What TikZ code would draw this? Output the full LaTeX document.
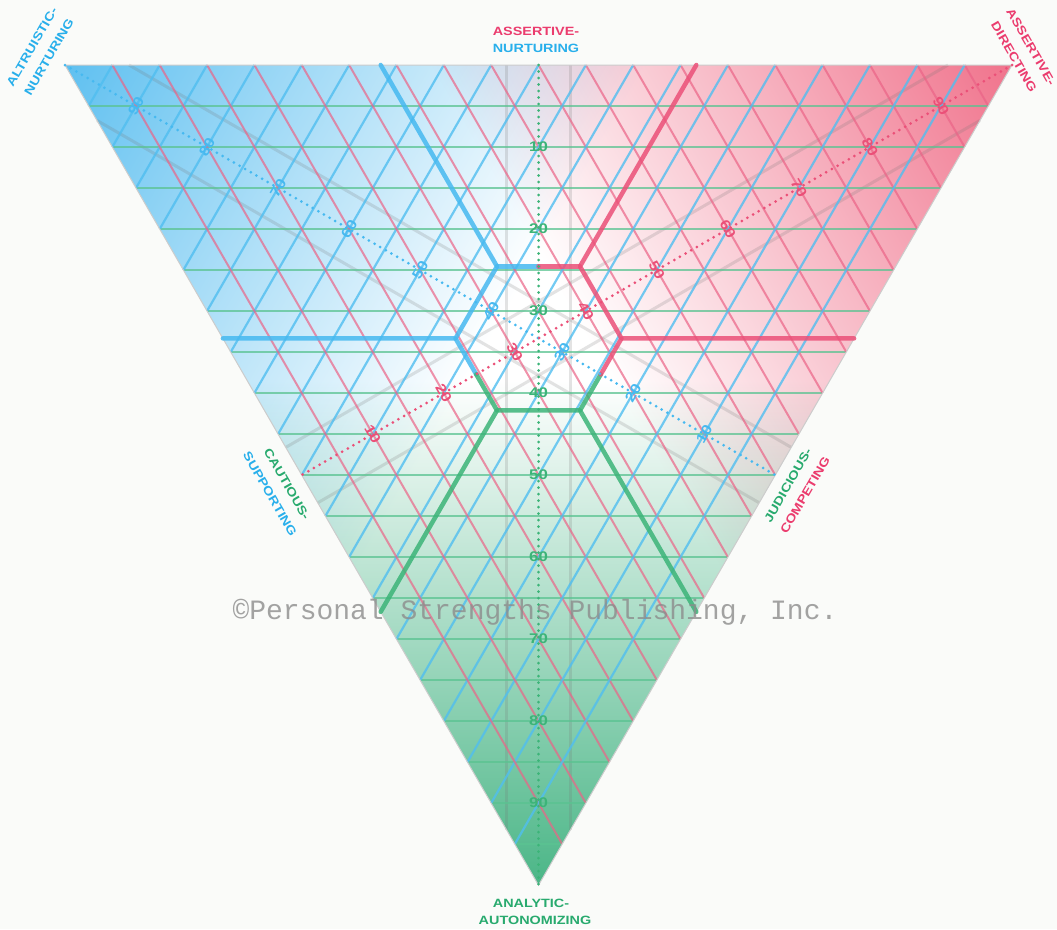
\documentclass[tikz,border=0pt]{standalone}
\usepackage{fontspec}
\usetikzlibrary{calc}
\newfontfamily\labfont[FakeStretch=1.2]{Liberation Sans}
\newfontfamily\wmfont{Liberation Mono}
\definecolor{bgc}{RGB}{250,251,249}
\definecolor{bcorner}{RGB}{95,192,240}
\definecolor{rcorner}{RGB}{240,115,140}
\definecolor{gcorner}{RGB}{75,182,135}
\definecolor{gridblue}{RGB}{80,190,240}
\definecolor{gridred}{RGB}{235,100,135}
\definecolor{gridgreen}{RGB}{90,195,145}
\definecolor{thblue}{RGB}{70,185,240}
\definecolor{thred}{RGB}{235,80,120}
\definecolor{thgreen}{RGB}{60,180,120}
\definecolor{labred}{RGB}{235,60,110}
\definecolor{labblue}{RGB}{40,175,235}
\definecolor{labgreen}{RGB}{40,170,110}
\tikzset{
  gline/.style={line width=1.8pt, draw=gridgreen, draw opacity=0.75},
  bline/.style={line width=2.2pt, draw=gridblue, draw opacity=0.8},
  rline/.style={line width=2pt, draw=gridred, draw opacity=0.7},
  grayline/.style={line width=3pt, draw=black!55, draw opacity=0.2},
  thick line/.style={line width=4.5pt, draw opacity=0.85, line cap=round, line join=round},
  median/.style={line width=3pt, line cap=round, dash pattern=on 0pt off 6.5pt},
  num/.style={font=\labfont\bfseries\fontsize{14}{14}\selectfont, inner sep=0pt},
  lab/.style={font=\labfont\bfseries\fontsize{12}{12}\selectfont, inner sep=0pt},
}
\begin{document}
\begin{tikzpicture}[x=1pt,y=-1pt]
\useasboundingbox (0,0) rectangle (1057,929);
\fill[bgc] (0,0) rectangle (1057,929);
% main vertices
\coordinate (A) at (65,65);
\coordinate (B) at (1012,65);
\coordinate (C) at (538.5,885.1);
\coordinate (O) at (538.5,338.4);
\coordinate (Mab) at ($(A)!0.5!(B)$);
\coordinate (Mbc) at ($(B)!0.5!(C)$);
\coordinate (Mac) at ($(A)!0.5!(C)$);
% hexagon
\coordinate (H0) at (621.5,338.4);
\coordinate (H1) at (580,266.4);
\coordinate (H2) at (497,266.4);
\coordinate (H3) at (455.5,338.4);
\coordinate (H4) at (497,410.4);
\coordinate (H5) at (580,410.4);
\coordinate (H12) at (538.5,266.4);
\coordinate (H34) at (476.25,374.4);
\coordinate (H50) at (600.75,374.4);
% partition ends
\coordinate (P2) at (380.7,65);
\coordinate (P1) at (696.3,65);
\coordinate (L3) at (222.9,338.4);
\coordinate (R0) at (854.1,338.4);
\coordinate (G4) at (380.7,611.8);
\coordinate (G5) at (696.3,611.8);

% gradient background
\begin{scope}
  \clip (A) -- (B) -- (C) -- cycle;
  \fill[white] (A) -- (B) -- (C) -- cycle;
  \foreach \ang/\col in {0/gcorner,120/rcorner,240/bcorner}{
    \begin{scope}[transform canvas={rotate around={\ang:(O)}}, blend mode=multiply]
      \shade[top color=white, bottom color=\col] (20,380) rectangle (1060,885.1);
    \end{scope}
  }
\end{scope}

% gray guide lines parallel to the medians
\foreach \ang in {0,120,240}{
  \begin{scope}[rotate around={\ang:(O)}]
    \draw[grayline] (506.5,65) -- (506.5,829.7);
    \draw[grayline] (570.5,65) -- (570.5,829.7);
  \end{scope}
}

% triangular grid
\foreach \k in {1,...,19}{
  \pgfmathsetmacro\s{\k/20}
  \draw[gline] ($(A)!\s!(C)$) -- ($(B)!\s!(C)$);
  \draw[rline] ($(B)!\s!(A)$) -- ($(B)!\s!(C)$);
  \draw[bline] ($(A)!\s!(B)$) -- ($(A)!\s!(C)$);
}

% outline
\draw[line width=1pt, draw=black!20] (A) -- (B) -- (C) -- cycle;

% thick partition lines and hub
\draw[thick line, draw=thblue] (P2) -- (H2) -- (H3) -- (L3);
\draw[thick line, draw=thred] (P1) -- (H1) -- (H0) -- (R0);
\draw[thick line, draw=thgreen] (G4) -- (H4) -- (H5) -- (G5);
\draw[thick line, draw=thblue] (H2) -- (H12);
\draw[thick line, draw=thred] (H12) -- (H1);
\draw[thick line, draw=thblue] (H3) -- (H34);
\draw[thick line, draw=thgreen] (H34) -- (H4);
\draw[thick line, draw=thgreen] (H5) -- (H50);
\draw[thick line, draw=thred] (H50) -- (H0);

% dotted medians
\draw[median, draw=thgreen] (Mab) -- (C);
\draw[median, draw=thblue] (A) -- (Mbc);
\draw[median, draw=thred] (B) -- (Mac);

% scale numbers
\foreach \i in {1,...,9}{
  \pgfmathtruncatemacro\v{10*\i}
  \pgfmathsetmacro\f{\i/10}
  \node[num, text=thgreen] (g\i) at ($(Mab)!\f!(C)$) {\v};
  \node[num, text=thblue, rotate=60] (b\i) at ($(Mbc)!\f!(A)$) {\v};
  \node[num, text=thred, rotate=-60] (r\i) at ($(Mac)!\f!(B)$) {\v};
}

% corner labels
\node[lab, text=labred] (t1) at (536,31) {ASSERTIVE-};
\node[lab, text=labblue] (t2) at (536,48) {NURTURING};
\node[lab, text=labblue, rotate=60] (tl1) at (32,47) {ALTRUISTIC-};
\node[lab, text=labblue, rotate=60] (tl2) at (49,57) {NURTURING};
\node[lab, text=labred, rotate=-60] (tr1) at (1031,47) {ASSERTIVE-};
\node[lab, text=labred, rotate=-60] (tr2) at (1014,57) {DIRECTING};
\node[lab, text=labgreen, rotate=-60] (l1) at (287,484) {CAUTIOUS-};
\node[lab, text=labblue, rotate=-60] (l2) at (270,494) {SUPPORTING};
\node[lab, text=labgreen, rotate=60] (r1) at (788,485) {JUDICIOUS-};
\node[lab, text=labred, rotate=60] (r2) at (805,495) {COMPETING};
\node[lab, text=labgreen] (bt1) at (531,903) {ANALYTIC-};
\node[lab, text=labgreen] (bt2) at (535,920) {AUTONOMIZING};

% watermark
\node[font=\wmfont\fontsize{28}{28}\selectfont, text=black!45, text opacity=0.8, inner sep=0pt] (wm) at (535,612) {©Personal Strengths Publishing, Inc.};
\end{tikzpicture}
\end{document}
